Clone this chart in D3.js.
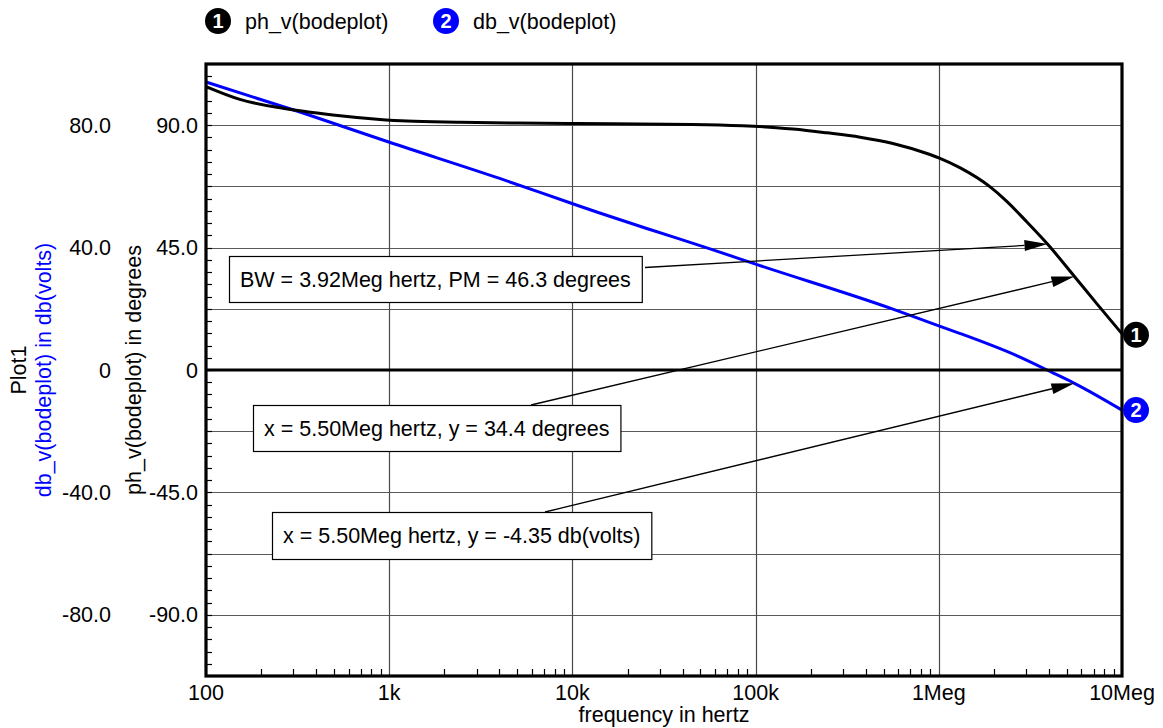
<!DOCTYPE html>
<html>
<head>
<meta charset="utf-8">
<script src="https://cdn.jsdelivr.net/npm/d3@7"></script>
<style>
	body { margin: 0; background: #ffffff; }
	svg { display: block; font-family: "Liberation Sans", Arial, sans-serif; }
</style>
</head>
<body>
<svg id="chart" width="1163" height="728"></svg>
<script>
'use strict';

// phase trace ph_v(bodeplot), degrees
var arrayPhaseFreq = [100, 153, 263, 493, 858, 1250, 2430, 5000, 10600, 45000, 85000, 130000, 160000, 245000, 372000, 562000, 862000, 1000000, 1310000, 1900000, 2350000, 2960000, 3920000, 5500000, 7280000, 10000000];
var arrayPhaseDeg  = [104.2, 99.5, 96.2, 93.75, 92.2, 91.5, 91.1, 90.8, 90.6, 90.3, 89.8, 89.1, 88.6, 87.2, 85.6, 83.3, 79.6, 78.0, 74.3, 67.4, 62.0, 55.1, 46.3, 34.4, 24.4, 13.3];

// gain trace db_v(bodeplot), db(volts)
var arrayDbFreq = [100, 326, 994, 4010, 9950, 14100, 26500, 56400, 100000, 562000, 1000000, 1310000, 2660000, 4220000, 5500000, 10000000];
var arrayDbVolts = [94.1, 84.3, 74.5, 62.6, 54.4, 51.3, 45.9, 39.6, 34.6, 19.9, 14.4, 11.9, 4.7, -1.0, -4.35, -13.1];

// tick labels
var arrayFreqTicks = [100, 1e3, 1e4, 1e5, 1e6, 1e7];
var arrayFreqTickLabels = ['100', '1k', '10k', '100k', '1Meg', '10Meg'];
var arrayPhaseTicks = [90, 45, 0, -45, -90];
var arrayPhaseTickLabels = ['90.0', '45.0', '0', '-45.0', '-90.0'];
var arrayDbTicks = [80, 40, 0, -40, -80];
var arrayDbTickLabels = ['80.0', '40.0', '0', '-40.0', '-80.0'];

// cursor annotations
var arrayCursorText = ['BW = 3.92Meg hertz, PM = 46.3 degrees', 'x = 5.50Meg hertz, y = 34.4 degrees', 'x = 5.50Meg hertz, y = -4.35 db(volts)'];
var arrayCursorFreq = [3.92e6, 5.5e6, 5.5e6];
var arrayCursorValue = [46.3, 34.4, -4.35];
var arrayCursorAxis = ['ph', 'ph', 'db'];

function DrawBodePlot(selector)
{
	var svg = d3.select(selector);
	var nFontSize = 21.5;

	var nLeft = 206, nRight = 1122, nTop = 64, nBottom = 676;

	var xScale = d3.scaleLog().domain([100, 1e7]).range([nLeft, nRight]);
	var yPhase = d3.scaleLinear().domain([-112.5, 112.5]).range([nBottom, nTop]);
	var yDb = d3.scaleLinear().domain([-100, 100]).range([nBottom, nTop]);

	svg.append('rect').attr('width', 1163).attr('height', 728).attr('fill', '#ffffff');

	// horizontal grid every 22.5 degrees
	var arrayGridY = d3.range(-90, 90.1, 22.5);
	svg.append('g').selectAll('line')
		.data(arrayGridY)
		.enter()
		.append('line')
		.attr('x1', nLeft).attr('x2', nRight)
		.attr('y1', function(d) { return Math.round(yPhase(d)) + 0.5; })
		.attr('y2', function(d) { return Math.round(yPhase(d)) + 0.5; })
		.attr('stroke', '#5a5a5a').attr('stroke-width', 1.2);

	// vertical grid at decades
	svg.append('g').selectAll('line')
		.data(arrayFreqTicks.slice(1, -1))
		.enter()
		.append('line')
		.attr('x1', function(d) { return Math.round(xScale(d)) + 0.5; })
		.attr('x2', function(d) { return Math.round(xScale(d)) + 0.5; })
		.attr('y1', nTop).attr('y2', nBottom)
		.attr('stroke', '#4a4a4a').attr('stroke-width', 1.2);

	// minor ticks on the left axis
	svg.append('g').selectAll('line')
		.data(d3.range(-108, 112.5, 4.5))
		.enter()
		.append('line')
		.attr('x1', nLeft).attr('x2', nLeft + 6)
		.attr('y1', function(d) { return Math.round(yPhase(d)) + 0.5; })
		.attr('y2', function(d) { return Math.round(yPhase(d)) + 0.5; })
		.attr('stroke', '#000000').attr('stroke-width', 1.2);

	// minor ticks on the frequency axis
	var arrayMinor = [];
	arrayFreqTicks.slice(0, -1).forEach(function(nDecade) {
		for (var k = 2; k <= 9; k++) arrayMinor.push(nDecade * k);
	});
	svg.append('g').selectAll('line')
		.data(arrayMinor)
		.enter()
		.append('line')
		.attr('x1', function(d) { return Math.round(xScale(d)) + 0.5; })
		.attr('x2', function(d) { return Math.round(xScale(d)) + 0.5; })
		.attr('y1', nBottom - 7).attr('y2', nBottom)
		.attr('stroke', '#000000').attr('stroke-width', 1.2);

	// traces
	var linePhase = d3.line()
		.x(function(d, i) { return xScale(arrayPhaseFreq[i]); })
		.y(function(d) { return yPhase(d); })
		.curve(d3.curveMonotoneX);
	var lineDb = d3.line()
		.x(function(d, i) { return xScale(arrayDbFreq[i]); })
		.y(function(d) { return yDb(d); })
		.curve(d3.curveMonotoneX);

	svg.append('path')
		.attr('d', lineDb(arrayDbVolts))
		.attr('fill', 'none').attr('stroke', '#0000ff').attr('stroke-width', 3);
	svg.append('path')
		.attr('d', linePhase(arrayPhaseDeg))
		.attr('fill', 'none').attr('stroke', '#000000').attr('stroke-width', 3);

	// zero line and frame
	svg.append('line')
		.attr('x1', nLeft).attr('x2', nRight)
		.attr('y1', yPhase(0)).attr('y2', yPhase(0))
		.attr('stroke', '#000000').attr('stroke-width', 3);
	svg.append('rect')
		.attr('x', nLeft).attr('y', nTop)
		.attr('width', nRight - nLeft).attr('height', nBottom - nTop)
		.attr('fill', 'none').attr('stroke', '#000000').attr('stroke-width', 3.2);

	// tick labels
	svg.append('g').selectAll('text')
		.data(arrayFreqTicks)
		.enter()
		.append('text')
		.attr('x', function(d) { return xScale(d); })
		.attr('y', 700)
		.attr('text-anchor', 'middle')
		.attr('font-size', nFontSize)
		.text(function(d, i) { return arrayFreqTickLabels[i]; });

	svg.append('g').selectAll('text')
		.data(arrayPhaseTicks)
		.enter()
		.append('text')
		.attr('x', 198)
		.attr('y', function(d) { return yPhase(d) + 7.5; })
		.attr('text-anchor', 'end')
		.attr('font-size', nFontSize)
		.text(function(d, i) { return arrayPhaseTickLabels[i]; });

	svg.append('g').selectAll('text')
		.data(arrayDbTicks)
		.enter()
		.append('text')
		.attr('x', 111)
		.attr('y', function(d) { return yDb(d) + 7.5; })
		.attr('text-anchor', 'end')
		.attr('font-size', nFontSize)
		.text(function(d, i) { return arrayDbTickLabels[i]; });

	// axis titles
	var nMidY = yPhase(0);
	var arrayTitles = [
		{ x: 26, text: 'Plot1', color: '#000000' },
		{ x: 51, text: 'db_v(bodeplot) in db(volts)', color: '#0000ff' },
		{ x: 141, text: 'ph_v(bodeplot) in degrees', color: '#000000' }
	];
	arrayTitles.forEach(function(t) {
		svg.append('text')
			.attr('transform', 'translate(' + t.x + ',' + nMidY + ') rotate(-90)')
			.attr('text-anchor', 'middle')
			.attr('font-size', nFontSize)
			.attr('fill', t.color)
			.text(t.text);
	});
	svg.append('text')
		.attr('x', (nLeft + nRight) / 2).attr('y', 722)
		.attr('text-anchor', 'middle')
		.attr('font-size', nFontSize)
		.text('frequency in hertz');

	// legend
	var arrayLegend = [
		{ x: 218, num: '1', color: '#000000', text: 'ph_v(bodeplot)' },
		{ x: 446, num: '2', color: '#0000ff', text: 'db_v(bodeplot)' }
	];
	arrayLegend.forEach(function(l) {
		DrawBadge(svg, l.x, 21, l.num, l.color);
		svg.append('text')
			.attr('x', l.x + 27).attr('y', 28.5)
			.attr('font-size', nFontSize)
			.text(l.text);
	});

	// trace end badges
	DrawBadge(svg, 1136, yPhase(arrayPhaseDeg[arrayPhaseDeg.length - 1]) + 1, '1', '#000000');
	DrawBadge(svg, 1136, yDb(arrayDbVolts[arrayDbVolts.length - 1]), '2', '#0000ff');

	// cursor boxes with arrows
	var arrayBoxes = [
		{ x: 229, y: 256, h: 46, sx: 645, sy: 267.5 },
		{ x: 253, y: 405, h: 46, sx: 531, sy: 405 },
		{ x: 272, y: 512, h: 47, sx: 545, sy: 512 }
	];
	arrayCursorText.forEach(function(strText, i) {
		var box = arrayBoxes[i];
		var nTipX = xScale(arrayCursorFreq[i]);
		var nTipY = arrayCursorAxis[i] == 'ph' ? yPhase(arrayCursorValue[i]) : yDb(arrayCursorValue[i]);
		var nAngle = Math.atan2(nTipY - box.sy, nTipX - box.sx);
		var nLen = 23, nHalf = 5.5;
		var nBaseX = nTipX - nLen * Math.cos(nAngle), nBaseY = nTipY - nLen * Math.sin(nAngle);

		svg.append('line')
			.attr('x1', box.sx).attr('y1', box.sy)
			.attr('x2', nBaseX).attr('y2', nBaseY)
			.attr('stroke', '#000000').attr('stroke-width', 1.3);
		svg.append('polygon')
			.attr('points', [
				[nTipX, nTipY],
				[nBaseX - nHalf * Math.sin(nAngle), nBaseY + nHalf * Math.cos(nAngle)],
				[nBaseX + nHalf * Math.sin(nAngle), nBaseY - nHalf * Math.cos(nAngle)]
			].join(' '))
			.attr('fill', '#000000');

		var rect = svg.append('rect')
			.attr('x', box.x + 0.5).attr('y', box.y + 0.5)
			.attr('height', box.h)
			.attr('fill', '#ffffff').attr('stroke', '#000000').attr('stroke-width', 1.2);
		var text = svg.append('text')
			.attr('x', box.x + 11).attr('y', box.y + 31)
			.attr('font-size', nFontSize)
			.text(strText);
		rect.attr('width', text.node().getComputedTextLength() + 22);
	});
}

function DrawBadge(svg, nX, nY, strNum, strColor)
{
	svg.append('circle')
		.attr('cx', nX).attr('cy', nY).attr('r', 13)
		.attr('fill', strColor);
	svg.append('text')
		.attr('x', nX).attr('y', nY + 7)
		.attr('text-anchor', 'middle')
		.attr('font-size', 20)
		.attr('font-weight', 'bold')
		.attr('fill', '#ffffff')
		.text(strNum);
}

DrawBodePlot('#chart');
</script>
</body>
</html>
